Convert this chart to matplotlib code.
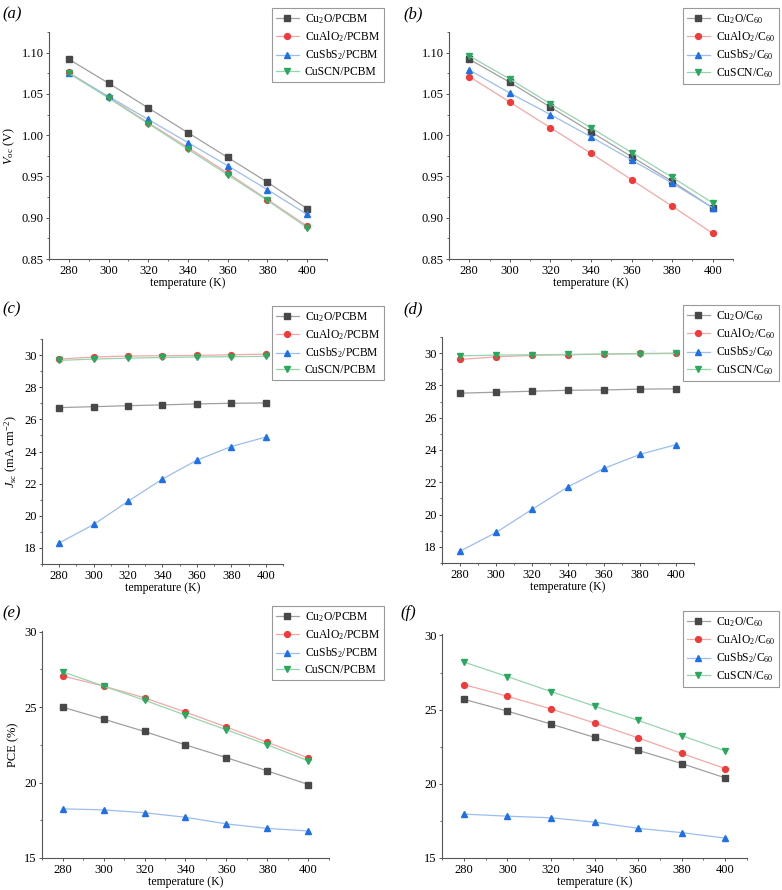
import numpy as np
import matplotlib
matplotlib.use("Agg")
import matplotlib.pyplot as plt
from matplotlib.ticker import MultipleLocator, AutoMinorLocator

plt.rcParams['font.family'] = ['Liberation Serif', 'DejaVu Serif']
plt.rcParams['mathtext.fontset'] = 'custom'
plt.rcParams['mathtext.rm'] = 'Liberation Serif'
plt.rcParams['mathtext.it'] = 'Liberation Serif:italic'

temps = [280, 300, 320, 340, 360, 380, 400]

# Voc (V) with PCBM
voc_pcbm_cu2o = [1.092, 1.063, 1.033, 1.003, 0.973, 0.943, 0.911]
voc_pcbm_cualo2 = [1.076, 1.046, 1.015, 0.985, 0.954, 0.922, 0.890]
voc_pcbm_cusbs2 = [1.075, 1.047, 1.019, 0.991, 0.963, 0.934, 0.904]
voc_pcbm_cuscn = [1.075, 1.045, 1.014, 0.983, 0.952, 0.921, 0.888]
# Voc (V) with C60
voc_c60_cu2o = [1.092, 1.064, 1.034, 1.004, 0.974, 0.944, 0.912]
voc_c60_cualo2 = [1.071, 1.040, 1.009, 0.978, 0.946, 0.914, 0.881]
voc_c60_cusbs2 = [1.079, 1.051, 1.025, 0.998, 0.970, 0.942, 0.912]
voc_c60_cuscn = [1.096, 1.068, 1.038, 1.009, 0.979, 0.949, 0.918]

# Jsc (mA cm-2) with PCBM
jsc_pcbm_cu2o = [26.73, 26.79, 26.85, 26.90, 26.96, 27.00, 27.02]
jsc_pcbm_cualo2 = [29.75, 29.88, 29.94, 29.96, 29.98, 30.02, 30.06]
jsc_pcbm_cusbs2 = [18.31, 19.46, 20.90, 22.29, 23.46, 24.31, 24.90]
jsc_pcbm_cuscn = [29.67, 29.75, 29.81, 29.85, 29.88, 29.90, 29.92]
# Jsc (mA cm-2) with C60
jsc_c60_cu2o = [27.52, 27.58, 27.64, 27.70, 27.72, 27.77, 27.79]
jsc_c60_cualo2 = [29.61, 29.77, 29.86, 29.90, 29.94, 29.98, 30.00]
jsc_c60_cusbs2 = [17.73, 18.89, 20.32, 21.72, 22.86, 23.73, 24.33]
jsc_c60_cuscn = [29.83, 29.88, 29.90, 29.92, 29.94, 29.96, 29.98]

# PCE (%) with PCBM
pce_pcbm_cu2o = [25.00, 24.21, 23.39, 22.50, 21.65, 20.77, 19.87]
pce_pcbm_cualo2 = [27.07, 26.40, 25.62, 24.67, 23.68, 22.67, 21.63]
pce_pcbm_cusbs2 = [18.26, 18.19, 18.00, 17.70, 17.26, 16.96, 16.79]
pce_pcbm_cuscn = [27.35, 26.40, 25.46, 24.47, 23.50, 22.50, 21.44]
# PCE (%) with C60
pce_c60_cu2o = [25.70, 24.90, 24.03, 23.13, 22.26, 21.37, 20.40]
pce_c60_cualo2 = [26.69, 25.90, 25.05, 24.10, 23.10, 22.05, 21.03]
pce_c60_cusbs2 = [17.96, 17.82, 17.71, 17.42, 17.00, 16.71, 16.34]
pce_c60_cuscn = [28.21, 27.23, 26.22, 25.24, 24.28, 23.25, 22.22]

names_pcbm = ['Cu$_2$O/PCBM', 'CuAlO$_2$/PCBM', 'CuSbS$_2$/PCBM', 'CuSCN/PCBM']
names_c60 = ['Cu$_2$O/C$_{60}$', 'CuAlO$_2$/C$_{60}$', 'CuSbS$_2$/C$_{60}$', 'CuSCN/C$_{60}$']

marker_colors = ['#484848', '#f23a3a', '#1f6fe6', '#2aa85e']
line_colors = ['#a0a0a0', '#f4a8a8', '#9cbdf0', '#98d4ae']
markers = ['s', 'o', '^', 'v']

W, H = 782, 890
fig = plt.figure(figsize=(W / 100, H / 100), dpi=100)


def px_axes(x0, y0, x1, y1):
    return fig.add_axes([x0 / W, 1 - y1 / H, (x1 - x0) / W, (y1 - y0) / H])


panels = [
    # (label, box, series, names, ylim, ymajor, ylabel, legend corner, label pos)
    ('(a)', (49, 32, 327, 259), [voc_pcbm_cu2o, voc_pcbm_cualo2, voc_pcbm_cusbs2, voc_pcbm_cuscn],
     names_pcbm, (0.85, 1.125), 0.05, '$V_{\\rm oc}$ (V)', (384, 8), (2, 14)),
    ('(b)', (449, 32, 733, 259), [voc_c60_cu2o, voc_c60_cualo2, voc_c60_cusbs2, voc_c60_cuscn],
     names_c60, (0.85, 1.125), 0.05, None, (779, 8), (403, 14)),
    ('(c)', (42, 339, 283, 564), [jsc_pcbm_cu2o, jsc_pcbm_cualo2, jsc_pcbm_cusbs2, jsc_pcbm_cuscn],
     names_pcbm, (17, 31), 2, '$J_{\\rm sc}$ (mA cm$^{-2}$)', (384, 306), (2, 309)),
    ('(d)', (442, 337, 694, 563), [jsc_c60_cu2o, jsc_c60_cualo2, jsc_c60_cusbs2, jsc_c60_cuscn],
     names_c60, (17, 31), 2, None, (779, 305), (403, 309)),
    ('(e)', (42, 631, 329, 858), [pce_pcbm_cu2o, pce_pcbm_cualo2, pce_pcbm_cusbs2, pce_pcbm_cuscn],
     names_pcbm, (15, 30.05), 5, 'PCE (%)', (384, 606), (2, 613)),
    ('(f)', (442, 634, 747, 858), [pce_c60_cu2o, pce_c60_cualo2, pce_c60_cusbs2, pce_c60_cuscn],
     names_c60, (15, 30.1), 5, None, (779, 611), (400, 613)),
]

for label, box, series, names, ylim, ymajor, ylabel, leg_corner, lab_pos in panels:
    ax = px_axes(*box)
    for i, ys in enumerate(series):
        ax.plot(temps, ys, color=line_colors[i], lw=0.9, marker=markers[i],
                markersize=4.2, markerfacecolor=marker_colors[i],
                markeredgecolor=marker_colors[i], label=names[i])
    ax.set_xlim(270, 410)
    ax.set_ylim(*ylim)
    ax.xaxis.set_major_locator(MultipleLocator(20))
    ax.xaxis.set_minor_locator(AutoMinorLocator(2))
    ax.yaxis.set_major_locator(MultipleLocator(ymajor))
    ax.yaxis.set_minor_locator(AutoMinorLocator(2))
    if ymajor == 0.05:
        ax.yaxis.set_major_formatter(plt.FormatStrFormatter('%.2f'))
    for s in ['top', 'right']:
        ax.spines[s].set_visible(False)
    for s in ['left', 'bottom']:
        ax.spines[s].set_color('#555555')
        ax.spines[s].set_linewidth(0.8)
    ax.tick_params(which='major', direction='out', length=2.5, width=0.7,
                   color='#555555', labelsize=9, pad=1.5)
    ax.tick_params(which='minor', direction='out', length=1.5, width=0.6, color='#555555')
    ax.set_xlabel('temperature (K)', fontsize=8.5, labelpad=0)
    if ylabel:
        ax.set_ylabel(ylabel, fontsize=9, labelpad=3)
    leg = ax.legend(loc='upper right', bbox_to_anchor=(leg_corner[0] / W, 1 - leg_corner[1] / H),
                    bbox_transform=fig.transFigure, fontsize=8.4, frameon=True, fancybox=False,
                    edgecolor='#999999', framealpha=1, handlelength=2.0, handletextpad=0.5,
                    borderpad=0.35, labelspacing=0.3, borderaxespad=0)
    leg.get_frame().set_linewidth(0.8)
    fig.text(lab_pos[0] / W, 1 - lab_pos[1] / H, label, fontsize=12, style='italic',
             va='center', ha='left')

fig.savefig('out.png', dpi=100)
